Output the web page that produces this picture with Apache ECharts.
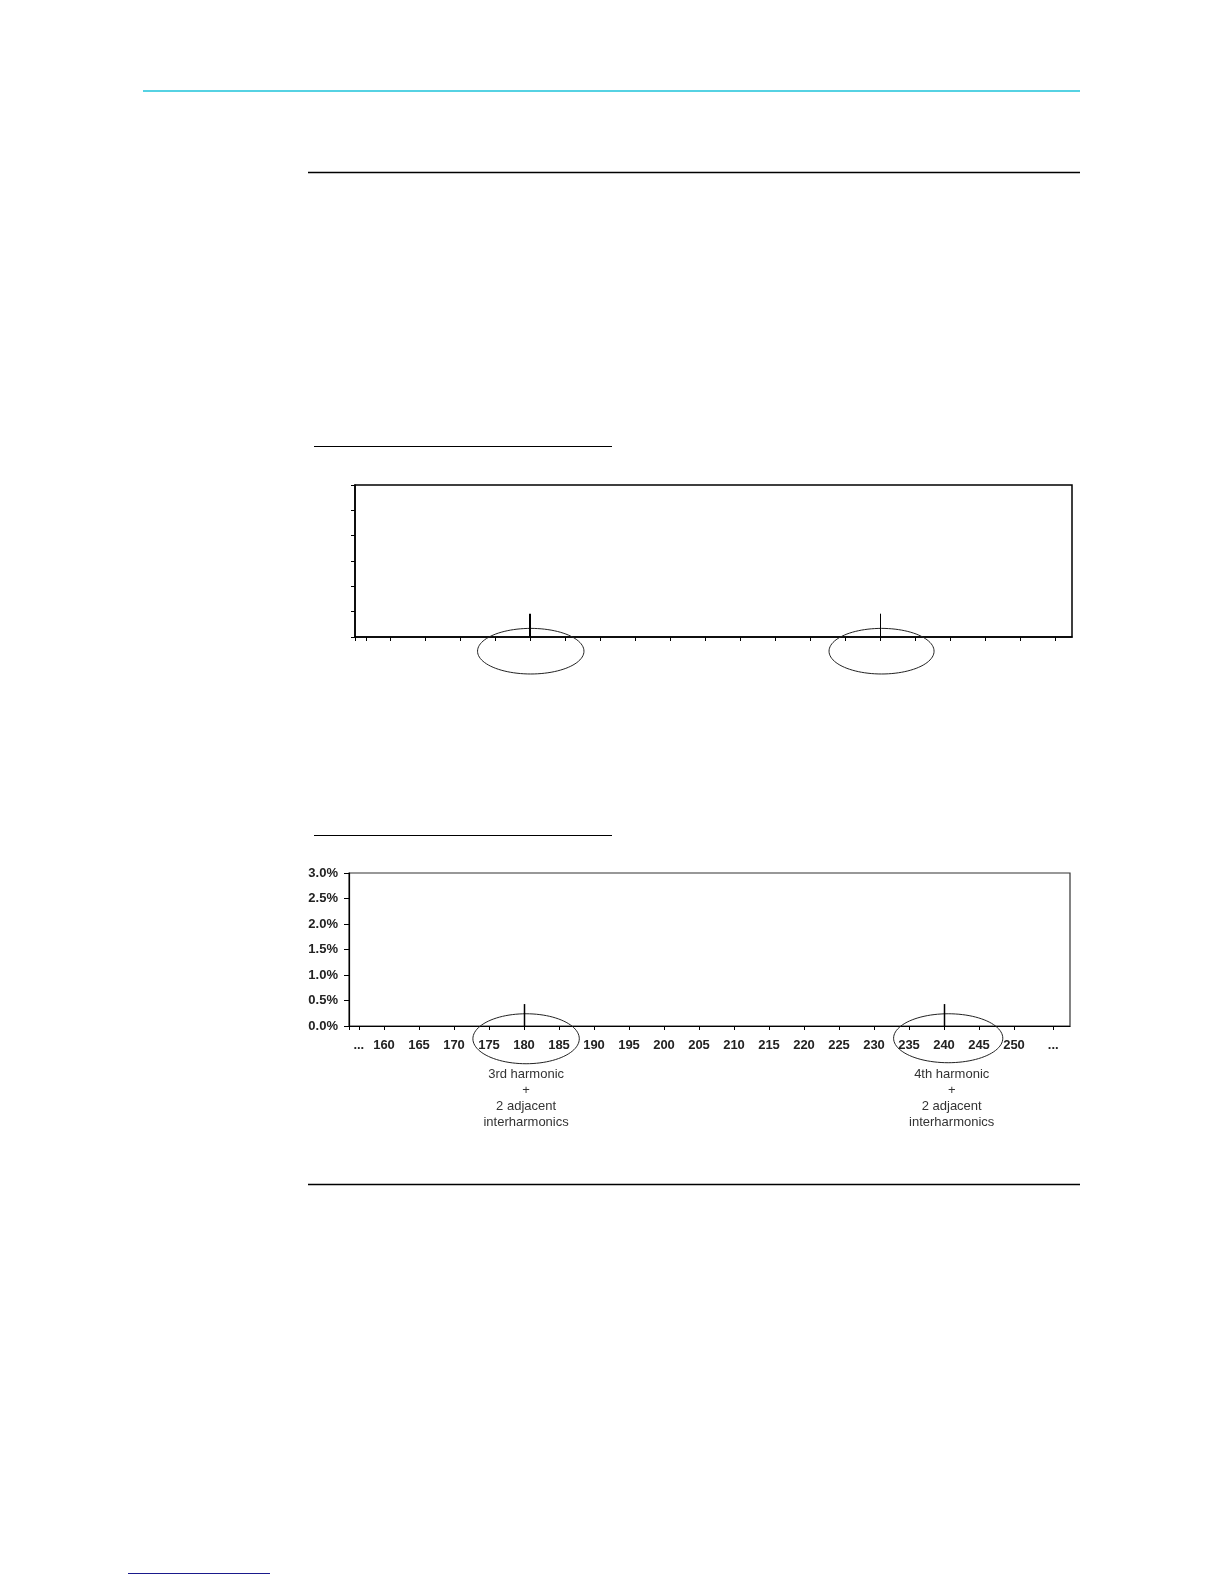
<!DOCTYPE html>
<html>
<head>
<meta charset="utf-8">
<script src="https://cdn.jsdelivr.net/npm/echarts@6/dist/echarts.min.js"></script>
<style>
html,body{margin:0;padding:0;background:#fff;}
#c{width:1224px;height:1584px;}
</style>
</head>
<body>
<div id="c"></div>
<script>
// ---------- data ----------
const freqLabels = [160,165,170,175,180,185,190,195,200,205,210,215,220,225,230,235,240,245,250];
const bottomEllipsisTicks = [156.4, 255.6];
const topTicks = [156.6,160,165,170,175,180,185,190,195,200,205,210,215,220,225,230,235,240,245,250,255];

const topSpikes = [[180, 0.46], [230, 0.46]];
const bottomSpikes = [[180, 0.43], [240, 0.43]];

// ellipse annotations: [centre x, centre y (%), half-width (Hz), half-height (%)]
const topEllipses = [[180.1, -0.28, 7.6, 0.45], [230.2, -0.28, 7.5, 0.45]];
const bottomEllipses = [[180.3, -0.25, 7.6, 0.49], [240.6, -0.24, 7.8, 0.48]];

const annotations = [
  [180.3, '3rd harmonic\n+\n2 adjacent\ninterharmonics'],
  [241.1, '4th harmonic\n+\n2 adjacent\ninterharmonics']
];

// ---------- chart ----------
const chart = echarts.init(document.getElementById('c'), null, {renderer: 'canvas'});
const FONT = 'Liberation Sans, Arial, sans-serif';

function spikeRender(widths) {
  return function (params, api) {
    const x = api.value(0), y = api.value(1);
    const p0 = api.coord([x, 0]), p1 = api.coord([x, y]);
    const w = widths[params.dataIndex];
    const px = Math.round(p0[0]) + (w % 2 ? 0.5 : 0);
    return {type: 'line', shape: {x1: px, y1: p0[1], x2: px, y2: p1[1]},
            style: {stroke: '#000', lineWidth: w}};
  };
}
function ellipseRender(params, api) {
  const cx = api.value(0), cy = api.value(1), rx = api.value(2), ry = api.value(3);
  const pts = [];
  for (let i = 0; i < 96; i++) {
    const t = i / 96 * Math.PI * 2;
    pts.push(api.coord([cx + rx * Math.cos(t), cy + ry * Math.sin(t)]));
  }
  return {type: 'polygon', shape: {points: pts},
          style: {fill: null, stroke: '#222', lineWidth: 1}};
}
function textRender(params, api) {
  const p = api.coord([api.value(0), 0]);
  return {type: 'text', x: p[0], y: p[1] + 40,
          style: {text: annotations[params.dataIndex][1], textAlign: 'center', textVerticalAlign: 'top',
                  font: '13px ' + FONT, lineHeight: 16, fill: '#333'}};
}

const lineStyleBlack = {color: '#000', width: 1.5};

const option = {
  animation: false,
  backgroundColor: '#fff',
  grid: [
    {left: 355, top: 485, width: 717, height: 152, show: true, borderColor: '#000', borderWidth: 1.5, containLabel: false},
    {left: 349, top: 873, width: 721, height: 153, show: true, borderColor: '#333', borderWidth: 1.2, containLabel: false}
  ],
  xAxis: [
    {gridIndex: 0, type: 'value', min: 155, max: 257.4, interval: 5,
     axisLine: {show: true, onZero: false, lineStyle: lineStyleBlack},
     axisTick: {show: true, length: 4, inside: false, customValues: [155].concat(topTicks), lineStyle: {color: '#000', width: 1}},
     axisLabel: {show: false}, splitLine: {show: false}},
    {gridIndex: 1, type: 'value', min: 155, max: 258, interval: 5,
     axisLine: {show: true, onZero: false, lineStyle: {color: '#000', width: 1.2}},
     axisTick: {show: true, length: 4, inside: false,
                customValues: [155, bottomEllipsisTicks[0]].concat(freqLabels, [bottomEllipsisTicks[1]]),
                lineStyle: {color: '#000', width: 1}},
     axisLabel: {show: true, margin: 13, fontFamily: FONT, fontWeight: 'bold', fontSize: 13, color: '#222',
                 customValues: [bottomEllipsisTicks[0]].concat(freqLabels, [bottomEllipsisTicks[1]]),
                 formatter: v => freqLabels.indexOf(v) >= 0 ? String(v) : '...'},
     splitLine: {show: false}}
  ],
  yAxis: [
    {gridIndex: 0, type: 'value', min: 0, max: 3, interval: 0.5,
     axisLine: {show: true, onZero: false, lineStyle: lineStyleBlack},
     axisTick: {show: true, length: 4, inside: false, lineStyle: {color: '#000', width: 1}},
     axisLabel: {show: false}, splitLine: {show: false}},
    {gridIndex: 1, type: 'value', min: 0, max: 3, interval: 0.5,
     axisLine: {show: true, onZero: false, lineStyle: {color: '#000', width: 1.2}},
     axisTick: {show: true, length: 5, inside: false, lineStyle: {color: '#000', width: 1}},
     axisLabel: {show: true, margin: 11, fontFamily: FONT, fontWeight: 'bold', fontSize: 13, color: '#222',
                 formatter: v => v.toFixed(1) + '%'},
     splitLine: {show: false}}
  ],
  series: [
    {type: 'custom', xAxisIndex: 0, yAxisIndex: 0, clip: false, data: topSpikes,
     encode: {x: 0, y: 1}, renderItem: spikeRender([2, 1]), silent: true, z: 5},
    {type: 'custom', xAxisIndex: 1, yAxisIndex: 1, clip: false, data: bottomSpikes,
     encode: {x: 0, y: 1}, renderItem: spikeRender([1.5, 1.5]), silent: true, z: 5},
    {type: 'custom', xAxisIndex: 0, yAxisIndex: 0, clip: false, data: topEllipses,
     encode: {x: 0, y: 1}, renderItem: ellipseRender, silent: true, z: 4},
    {type: 'custom', xAxisIndex: 1, yAxisIndex: 1, clip: false, data: bottomEllipses,
     encode: {x: 0, y: 1}, renderItem: ellipseRender, silent: true, z: 4},
    {type: 'custom', xAxisIndex: 1, yAxisIndex: 1, clip: false,
     data: annotations.map(a => [a[0], 0]),
     encode: {x: 0, y: 1}, renderItem: textRender, silent: true, z: 4}
  ],
  graphic: [
    {type: 'line', shape: {x1: 143, y1: 91, x2: 1080, y2: 91}, style: {stroke: '#1ec3da', lineWidth: 1.5}},
    {type: 'line', shape: {x1: 308, y1: 172.5, x2: 1080, y2: 172.5}, style: {stroke: '#000', lineWidth: 1.4}},
    {type: 'line', shape: {x1: 314, y1: 446.5, x2: 612, y2: 446.5}, style: {stroke: '#000', lineWidth: 1.2}},
    {type: 'line', shape: {x1: 314, y1: 835.5, x2: 612, y2: 835.5}, style: {stroke: '#000', lineWidth: 1.2}},
    {type: 'line', shape: {x1: 308, y1: 1184.5, x2: 1080, y2: 1184.5}, style: {stroke: '#000', lineWidth: 1.4}},
    {type: 'line', shape: {x1: 128, y1: 1573.5, x2: 270, y2: 1573.5}, style: {stroke: '#1a1a8c', lineWidth: 1.2}}
  ]
};
chart.setOption(option);
</script>
</body>
</html>
